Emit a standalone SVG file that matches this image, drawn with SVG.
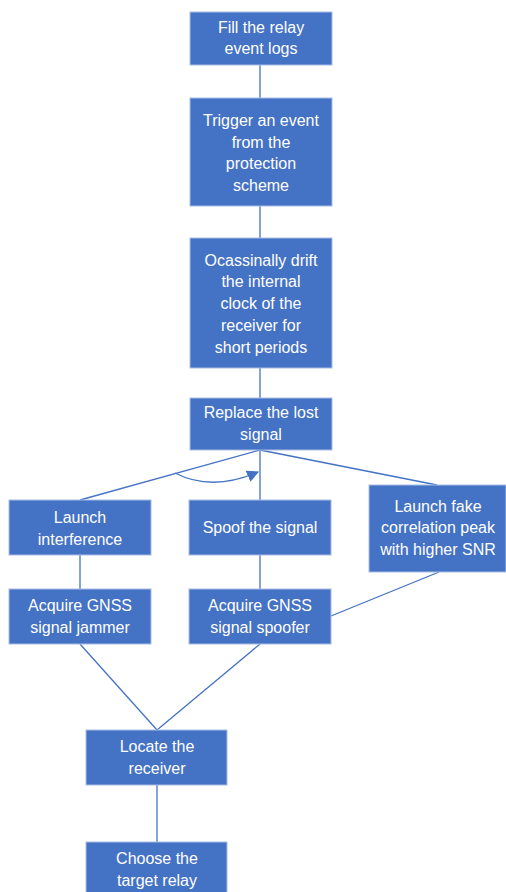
<svg xmlns="http://www.w3.org/2000/svg" width="506" height="892" viewBox="0 0 506 892">
  <style>
    .box { fill: #4472C4; stroke: #A9BDE3; stroke-width: 1; }
    .lbl { fill: #FFFFFF; font-family: "Liberation Sans", Arial, sans-serif; font-size: 16px; text-anchor: middle; }
    .wire { fill: none; stroke: #4472C4; stroke-width: 1.3; }
  </style>
  <defs>
    <marker id="arrow" viewBox="0 0 10 10" refX="9" refY="5" markerWidth="12" markerHeight="12" markerUnits="userSpaceOnUse" orient="auto">
      <path d="M0,0 L10,5 L0,10 z" fill="#4472C4"/>
    </marker>
  </defs>
  <rect width="506" height="892" fill="#FFFFFF"/>

  <g id="connectors">
    <line class="wire" x1="260" y1="65" x2="260" y2="98"/>
    <line class="wire" x1="260" y1="206" x2="260" y2="238"/>
    <line class="wire" x1="260" y1="368" x2="260" y2="398"/>
    <line class="wire" x1="260" y1="450" x2="80" y2="500"/>
    <line class="wire" x1="260" y1="450" x2="260" y2="500"/>
    <line class="wire" x1="260" y1="450" x2="437" y2="485"/>
    <line class="wire" x1="80" y1="555" x2="80" y2="589"/>
    <line class="wire" x1="260" y1="555" x2="260" y2="589"/>
    <line class="wire" x1="439" y1="572" x2="331" y2="616"/>
    <line class="wire" x1="80" y1="644" x2="157" y2="730"/>
    <line class="wire" x1="260" y1="644" x2="157" y2="730"/>
    <line class="wire" x1="157" y1="785" x2="157" y2="842"/>
    <path class="wire" d="M175,473 Q212,492 258,472" marker-end="url(#arrow)"/>
  </g>

  <g id="fill-logs">
    <rect class="box" x="190" y="12" width="142" height="53"/>
    <text class="lbl" x="261" y="33">Fill the relay</text>
    <text class="lbl" x="261" y="54">event logs</text>
  </g>

  <g id="trigger-event">
    <rect class="box" x="190" y="98" width="142" height="108"/>
    <text class="lbl" x="261" y="126">Trigger an event</text>
    <text class="lbl" x="261" y="148">from the</text>
    <text class="lbl" x="261" y="169">protection</text>
    <text class="lbl" x="261" y="191">scheme</text>
  </g>

  <g id="drift-clock">
    <rect class="box" x="190" y="238" width="142" height="130"/>
    <text class="lbl" x="261" y="266">Ocassinally drift</text>
    <text class="lbl" x="261" y="287">the internal</text>
    <text class="lbl" x="261" y="309">clock of the</text>
    <text class="lbl" x="261" y="331">receiver for</text>
    <text class="lbl" x="261" y="353">short periods</text>
  </g>

  <g id="replace-signal">
    <rect class="box" x="190" y="398" width="142" height="52"/>
    <text class="lbl" x="261" y="418">Replace the lost</text>
    <text class="lbl" x="261" y="440">signal</text>
  </g>

  <g id="launch-interference">
    <rect class="box" x="9" y="500" width="142" height="55"/>
    <text class="lbl" x="80" y="523">Launch</text>
    <text class="lbl" x="80" y="545">interference</text>
  </g>

  <g id="spoof-signal">
    <rect class="box" x="189" y="500" width="142" height="55"/>
    <text class="lbl" x="260" y="533">Spoof the signal</text>
  </g>

  <g id="fake-peak">
    <rect class="box" x="369" y="485" width="137" height="87"/>
    <text class="lbl" x="438" y="512">Launch fake</text>
    <text class="lbl" x="438" y="533">correlation peak</text>
    <text class="lbl" x="438" y="555">with higher SNR</text>
  </g>

  <g id="acquire-jammer">
    <rect class="box" x="9" y="589" width="142" height="55"/>
    <text class="lbl" x="80" y="611">Acquire GNSS</text>
    <text class="lbl" x="80" y="633">signal jammer</text>
  </g>

  <g id="acquire-spoofer">
    <rect class="box" x="189" y="589" width="142" height="55"/>
    <text class="lbl" x="260" y="611">Acquire GNSS</text>
    <text class="lbl" x="260" y="633">signal spoofer</text>
  </g>

  <g id="locate-receiver">
    <rect class="box" x="86" y="730" width="141" height="55"/>
    <text class="lbl" x="157" y="752">Locate the</text>
    <text class="lbl" x="157" y="774">receiver</text>
  </g>

  <g id="choose-relay">
    <rect class="box" x="86" y="842" width="141" height="60"/>
    <text class="lbl" x="157" y="864">Choose the</text>
    <text class="lbl" x="157" y="886">target relay</text>
  </g>
</svg>
